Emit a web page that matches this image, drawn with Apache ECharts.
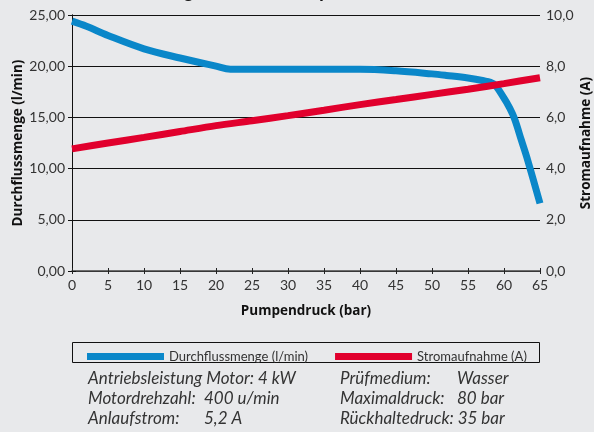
<!DOCTYPE html>
<html><head><meta charset="utf-8">
<script src="https://cdn.jsdelivr.net/npm/echarts@6/dist/echarts.min.js"></script>
<style>html,body{margin:0;padding:0;background:#e8e9eb;}#c{width:594px;height:432px;}</style>
</head><body><div id="c"></div>
<script>
const titleText = 'Leistungskurve der Pumpe';
const xTicks = [0,5,10,15,20,25,30,35,40,45,50,55,60,65];
const flowName = 'Durchflussmenge (l/min)';
const currentName = 'Stromaufnahme (A)';
const flowX = [0,2,5,10,15,20,22,30,40,45,50,52,55,57,58.5,59.9,60.8,61.5,62.4,63.3,65];
const flowY = [24.4,23.9,23.0,21.7,20.8,20.0,19.7,19.7,19.7,19.55,19.25,19.1,18.85,18.6,18.3,17.0,15.9,14.8,12.8,10.8,6.6];
const curX = [0,5,10,15,20,25,30,35,40,45,50,55,60,65];
const curY = [4.77,5.0,5.22,5.45,5.68,5.87,6.07,6.28,6.5,6.7,6.9,7.1,7.32,7.55];
const infoLeft = [['Antriebsleistung Motor: 4 kW',''],['Motordrehzahl:','400 u/min'],['Anlaufstrom:','5,2 A']];
const infoRight = [['Prüfmedium:','Wasser'],['Maximaldruck:','80 bar'],['Rückhaltedruck: 35 bar','']];

const font = 'Lato, "Open Sans", sans-serif';
const boldFont = '"Open Sans", Lato, sans-serif';
const chart = echarts.init(document.getElementById('c'));
const gfx = [];
gfx.push({type:'text', x:125, y:0, style:{text:titleText, font:'bold 16px '+boldFont, fill:'#111', textAlign:'left', textVerticalAlign:'bottom'}});
gfx.push({type:'rect', shape:{x:72.5,y:342.5,width:467,height:20}, style:{fill:'none', stroke:'#111', lineWidth:1}});
function addInfo(rows, x1, x2){
  rows.forEach((r,i)=>{
    gfx.push({type:'text', x:x1, y:379+i*20, style:{text:r[0], font:'italic 17px '+font, fill:'#333', textVerticalAlign:'middle'}});
    if(r[1]) gfx.push({type:'text', x:x2, y:379+i*20, style:{text:r[1], font:'italic 17px '+font, fill:'#333', textVerticalAlign:'middle'}});
  });
}
addInfo(infoLeft, 88, 204);
addInfo(infoRight, 340, 457);

chart.setOption({
  backgroundColor:'#e8e9eb',
  animation:false,
  textStyle:{fontFamily:font},
  grid:{left:72, right:54, top:15, bottom:161, outerBoundsMode:'none', containLabel:false},
  legend:{top:345, left:82, itemWidth:77, itemHeight:7, itemGap:27, icon:'rect',
    textStyle:{fontSize:13, color:'#333', fontFamily:font},
    data:[flowName, currentName]},
  xAxis:[{
    type:'value', min:0, max:65, interval:5,
    name:'Pumpendruck (bar)', nameLocation:'middle', nameGap:33, nameMoveOverlap:false,
    nameTextStyle:{fontWeight:'bold', fontSize:13.5, color:'#111', fontFamily:boldFont, verticalAlign:'top'},
    axisLine:{lineStyle:{color:'#444', width:1.5}},
    axisTick:{show:true, length:3, lineStyle:{color:'#222'}},
    axisLabel:{color:'#333', fontSize:14, margin:7, formatter:v=>String(v)},
    splitLine:{show:false}
  },{
    type:'value', min:0, max:65, interval:5, position:'bottom',
    axisLine:{show:false}, axisTick:{show:true, inside:true, length:3, lineStyle:{color:'#222'}},
    axisLabel:{show:false}, splitLine:{show:false}
  }],
  yAxis:[{
    type:'value', min:0, max:25, interval:5,
    name:flowName, nameLocation:'middle', nameGap:47, nameRotate:90, nameMoveOverlap:false,
    nameTextStyle:{fontWeight:'bold', fontSize:13.5, color:'#111', fontFamily:boldFont},
    axisLine:{show:true, lineStyle:{color:'#111'}},
    axisTick:{show:true, length:4, lineStyle:{color:'#111'}},
    axisLabel:{color:'#333', fontSize:14, margin:7, formatter:v=>v.toFixed(2).replace('.',',')},
    splitLine:{show:true, lineStyle:{color:'#111', width:1}}
  },{
    type:'value', min:0, max:10, interval:2, position:'right',
    name:currentName, nameLocation:'middle', nameGap:39, nameRotate:90, nameMoveOverlap:false,
    nameTextStyle:{fontWeight:'bold', fontSize:13.5, color:'#111', fontFamily:boldFont},
    axisLine:{show:true, lineStyle:{color:'#111'}},
    axisTick:{show:true, length:4, lineStyle:{color:'#111'}},
    axisLabel:{color:'#333', fontSize:14, margin:6, formatter:v=>v.toFixed(1).replace('.',',')},
    splitLine:{show:false}
  }],
  series:[{
    name:flowName, type:'line', yAxisIndex:0, smooth:0.35, showSymbol:false,
    lineStyle:{color:'#0a87c9', width:7}, itemStyle:{color:'#0a87c9'},
    data:flowX.map((x,i)=>[x, flowY[i]]), z:3
  },{
    name:currentName, type:'line', yAxisIndex:1, smooth:0.3, showSymbol:false,
    lineStyle:{color:'#e1002d', width:7}, itemStyle:{color:'#e1002d'},
    data:curX.map((x,i)=>[x, curY[i]]), z:4
  }],
  graphic:gfx
});
</script></body></html>
